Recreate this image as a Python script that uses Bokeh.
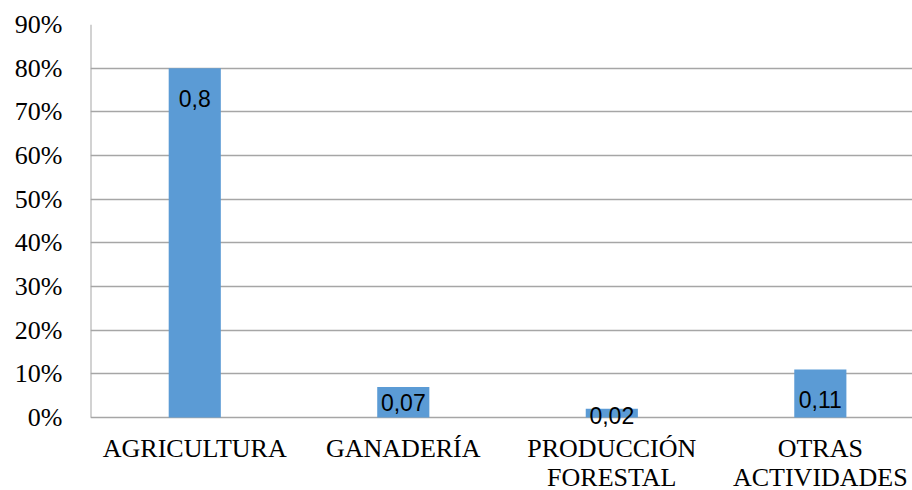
from bokeh.plotting import figure
from bokeh.models import Range1d, FixedTicker, ColumnDataSource
from bokeh.core.properties import value
from bokeh.embed import file_html
from bokeh.resources import INLINE

categories = ["AGRICULTURA", "GANADERÍA", "PRODUCCIÓN\nFORESTAL", "OTRAS\nACTIVIDADES"]
values = [0.80, 0.07, 0.02, 0.11]
value_labels = ["0,8", "0,07", "0,02", "0,11"]
y_ticks = [0.0, 0.1, 0.2, 0.3, 0.4, 0.5, 0.6, 0.7, 0.8, 0.9]
y_tick_labels = ["0%", "10%", "20%", "30%", "40%", "50%", "60%", "70%", "80%", "90%"]

# pixel offsets of data labels below the bar top (style only)
label_dy = [30, 16, 7, 30]

xs = [i + 0.5 for i in range(len(categories))]
zeros = [0.0] * len(categories)

src = ColumnDataSource(dict(x=xs, top=values, lab=value_labels, dy=label_dy,
                            base=zeros, cat=categories))

# frame reaches the bottom of the canvas so that labels below the 0 line are not clipped
p = figure(width=912, height=490, output_backend="svg", toolbar_location=None,
           x_range=Range1d(0, 3.942), y_range=Range1d(-0.1672, 0.9),
           min_border_left=90, min_border_right=0, min_border_top=24, min_border_bottom=0)
p.outline_line_color = None
p.background_fill_color = "white"
p.border_fill_color = "white"
p.xaxis.visible = False

p.vbar(x="x", top="top", bottom=0, width=0.25, source=src, color="#5b9bd5", line_color=None)

p.xgrid.grid_line_color = None
p.ygrid.grid_line_color = "#a6a6a6"
p.ygrid.grid_line_width = 1.5
p.ygrid.ticker = FixedTicker(ticks=y_ticks)

# vertical axis line only from 0% to 90%
p.segment(x0=[0.0], y0=[y_ticks[0]], x1=[0.0], y1=[y_ticks[-1]],
          line_color="#a6a6a6", line_width=2)

p.yaxis.ticker = FixedTicker(ticks=y_ticks)
p.yaxis.major_label_overrides = {t: l for t, l in zip(y_ticks, y_tick_labels)}
p.yaxis.major_tick_line_color = None
p.yaxis.minor_tick_line_color = None
p.yaxis.major_tick_out = 0
p.yaxis.major_label_standoff = 28
p.yaxis.axis_line_color = None
p.yaxis.major_label_text_font = "Liberation Serif"
p.yaxis.major_label_text_font_size = "26px"
p.yaxis.major_label_text_color = "black"

p.text(x="x", y="top", text="lab", y_offset="dy", source=src,
       text_align="center", text_baseline="middle",
       text_font=value("Liberation Sans"), text_font_size=value("23px"), text_color="black")

p.text(x="x", y="base", text="cat", y_offset=17, source=src,
       text_align="center", text_baseline="top", text_line_height=1.0,
       text_font=value("Liberation Serif"), text_font_size=value("26px"), text_color="black")

open("out.html", "w").write(file_html(p, INLINE))
